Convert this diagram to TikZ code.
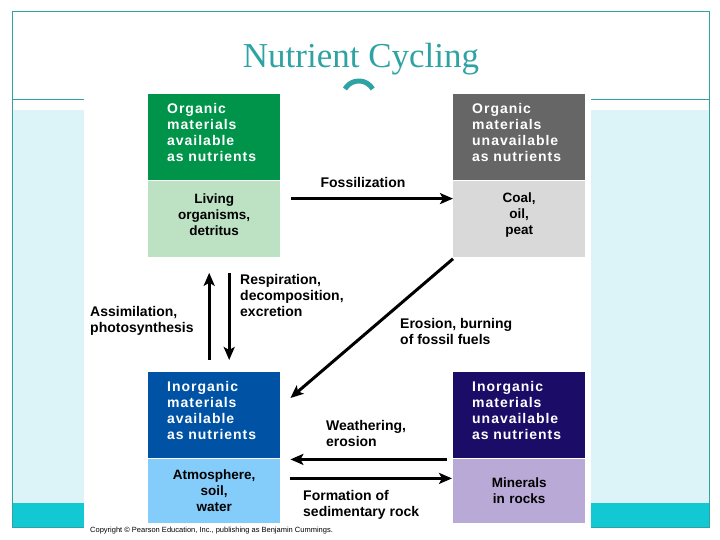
\documentclass[tikz,border=0pt]{standalone}
\usepackage{fontspec}
\setmainfont{Liberation Sans}
\newfontfamily\titlefont{Liberation Serif}
\usetikzlibrary{positioning,arrows.meta}
\definecolor{slideteal}{HTML}{2FA3A3}
\definecolor{bandcyan}{HTML}{DCF4F8}
\definecolor{bandteal}{HTML}{12C8D2}
\definecolor{orgdark}{HTML}{00934A}
\definecolor{orglight}{HTML}{BDE1C3}
\definecolor{fosdark}{HTML}{666666}
\definecolor{foslight}{HTML}{D9D9D9}
\definecolor{inodark}{HTML}{0052A4}
\definecolor{inolight}{HTML}{84CCFA}
\definecolor{mindark}{HTML}{1B0C68}
\definecolor{minlight}{HTML}{B9A9D6}
\tikzset{>=Stealth}

\begin{document}
\begin{tikzpicture}[x=1pt,y=-1pt,
    head/.style={rectangle,anchor=north west,minimum width=132pt,minimum height=86pt,
      inner xsep=19pt,text width=94pt,align=left,text=white,
      font=\fontsize{14}{16}\selectfont\bfseries\addfontfeature{LetterSpace=7},
      execute at end node={\endgraf\vspace*{10pt}}},
    body/.style={rectangle,below=0pt of #1,minimum width=132pt,minimum height=76pt,
      text width=132pt,align=center,inner sep=0pt,
      font=\fontsize{13.5}{16}\selectfont\bfseries},
    raised/.style={execute at end node={\endgraf\vspace*{7pt}}},
    flow/.style={line width=3pt,-{Stealth[length=13pt,width=11pt,inset=3pt]}},
    lab/.style={anchor=west,align=left,inner sep=0pt,font=\fontsize{14}{16}\selectfont\bfseries}]
  % slide background
  \useasboundingbox (0,0) rectangle (720,540);
  \fill[bandcyan] (12,110) rectangle (709,503);
  \fill[bandteal] (12,503) rectangle (709,527);
  \draw[slideteal,line width=1pt] (12,12) rectangle (709,527);
  \draw[slideteal,line width=1pt] (12,100) -- (709,100);
  \node[text=slideteal,font=\titlefont\fontsize{35}{38}\selectfont] (title) at (361,59) {Nutrient Cycling};
  \fill[white] (84,90) rectangle (591,540);
  \draw[slideteal,line width=5pt] (345,89) arc[start angle=210,end angle=330,radius=16];

  % boxes
  \node[head,fill=orgdark] (orgav) at (148,94) {Organic\\materials\\available\\as nutrients};
  \node[body=orgav,fill=orglight,raised] (living) {Living\\organisms,\\detritus};
  \node[head,fill=fosdark] (orgun) at (453,94) {Organic\\materials\\unavailable\\as nutrients};
  \node[body=orgun,fill=foslight,raised] (coal) {Coal,\\oil,\\peat};
  \node[head,fill=inodark] (inoav) at (148,372) {Inorganic\\materials\\available\\as nutrients};
  \node[body=inoav,fill=inolight,minimum height=64pt] (atmos) {Atmosphere,\\soil,\\water};
  \node[head,fill=mindark] (inoun) at (453,372) {Inorganic\\materials\\unavailable\\as nutrients};
  \node[body=inoun,fill=minlight,minimum height=64pt] (minerals) {Minerals\\in rocks};

  % arrows
  \draw[flow,shorten <=11pt] ([yshift=20pt]living.east) -- ([yshift=20pt]coal.west);
  \draw[flow,shorten <=12pt,shorten >=16pt] ([xshift=-5pt]inoav.north) -- ([xshift=-5pt]living.south);
  \draw[flow,shorten <=16pt,shorten >=12pt] ([xshift=15pt]living.south) -- ([xshift=15pt]inoav.north);
  \draw[flow] ([shift={(0,2)}]coal.south west) -- ([shift={(10,26)}]inoav.north east);
  \draw[flow] ([shift={(-6,1)}]inoun.south west) -- ([shift={(10,1)}]inoav.south east);
  \draw[flow] ([shift={(10,20)}]atmos.north east) -- ([shift={(-1,20)}]minerals.north west);

  % labels
  \node[font=\fontsize{14}{16}\selectfont\bfseries] (fossil) at (363,182) {Fossilization};
  \node[lab] (assim) at (90,321) {Assimilation,\\photosynthesis};
  \node[lab] (resp) at (240,295) {Respiration,\\decomposition,\\excretion};
  \node[lab] (erosion) at (400,331) {Erosion, burning\\of fossil fuels};
  \node[lab] (weather) at (326,433) {Weathering,\\erosion};
  \node[lab] (sediment) at (303,505) {Formation of\\sedimentary rock};
  \node[anchor=west,inner sep=0pt,font=\fontsize{7.5}{9}\selectfont] (copy) at (90,531)
    {Copyright \copyright{} Pearson Education, Inc., publishing as Benjamin Cummings.};
\end{tikzpicture}
\end{document}
